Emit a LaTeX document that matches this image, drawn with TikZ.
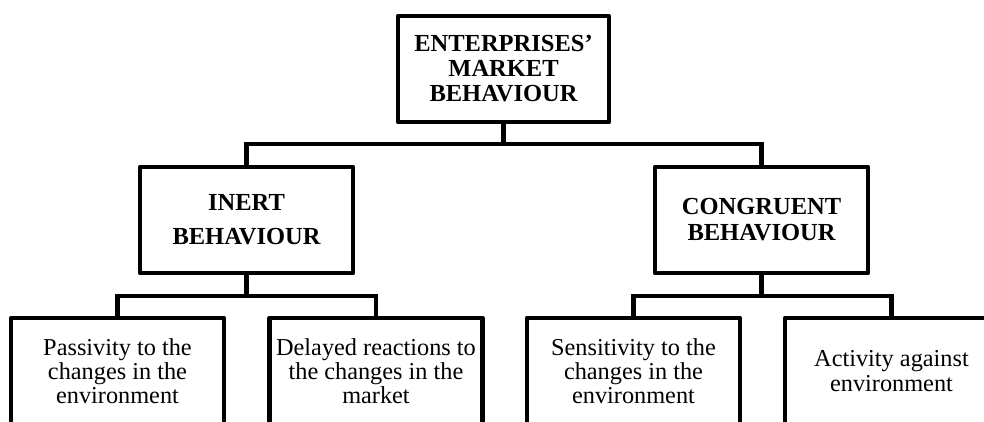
\documentclass[tikz,border=0pt]{standalone}
\usepackage{fontspec}
\setmainfont{Liberation Serif}
\begin{document}
\begin{tikzpicture}[x=1pt,y=-1pt,
  box/.style={draw, line width=4.7pt, line join=round, minimum width=213pt,
    minimum height=106pt, inner sep=0pt, align=center,
    font=\fontsize{24.3}{24}\selectfont},
  hbox/.style={box, font=\fontsize{24.5}{25}\selectfont\bfseries},
  conn/.style={line width=4.5pt}]
\useasboundingbox (0,0) rectangle (984,421);
\clip (0,0) rectangle (984,421);
\node[hbox, minimum width=211pt] (top) at (503.5,69) {ENTERPRISES’\\MARKET\\BEHAVIOUR};
\node[hbox, font=\fontsize{24.5}{34}\selectfont\bfseries] (inert) at (246.5,220) {INERT\\BEHAVIOUR};
\node[hbox, font=\fontsize{24.5}{26}\selectfont\bfseries] (cong) at (761.5,220) {CONGRUENT\\BEHAVIOUR};
\node[box] (b1) at (117.5,371) {Passivity to the\\changes in the\\environment};
\node[box] (b2) at (376,371) {Delayed reactions to\\the changes in the\\market};
\node[box] (b3) at (633.5,371) {Sensitivity to the\\changes in the\\environment};
\node[box, font=\fontsize{24.3}{25}\selectfont] (b4) at (891.5,371) {Activity against\\environment};
\coordinate (j1) at (503.5,144);
\coordinate (j2) at (246.5,296);
\coordinate (j3) at (761.5,296);
\draw[conn] (top.south) -- (j1);
\draw[conn] (inert.north) |- (j1) -| (cong.north);
\draw[conn] (inert.south) -- (j2);
\draw[conn] (b1.north) |- (j2) -| (b2.north);
\draw[conn] (cong.south) -- (j3);
\draw[conn] (b3.north) |- (j3) -| (b4.north);
\end{tikzpicture}
\end{document}
